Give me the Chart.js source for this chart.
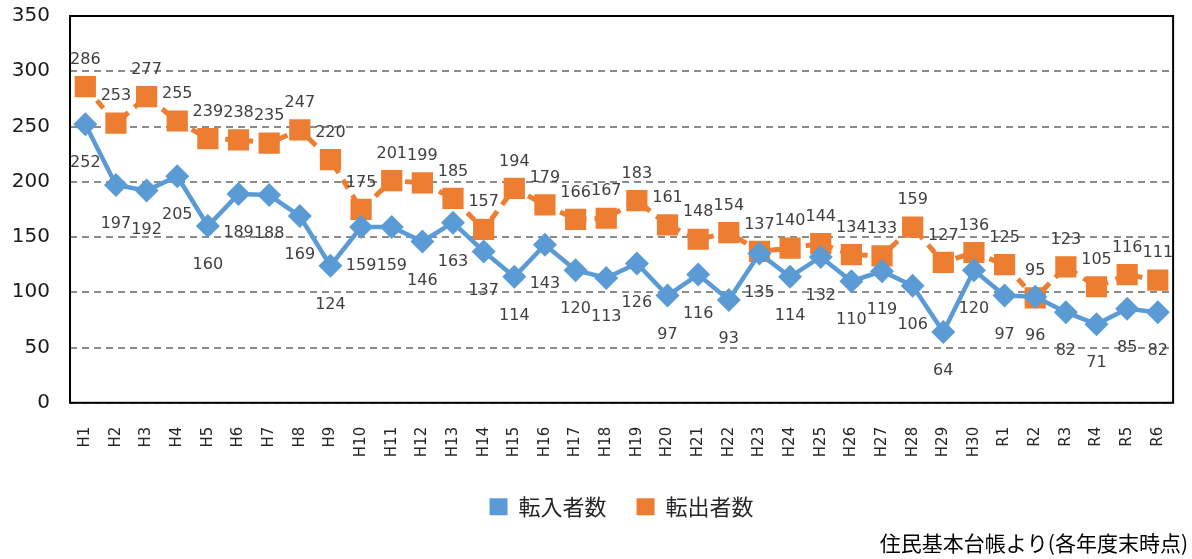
<!DOCTYPE html>
<html>
<head>
<meta charset="utf-8">
<script src="https://cdn.jsdelivr.net/npm/chart.js@4/dist/chart.umd.min.js"></script>
<style>
  html, body { margin: 0; padding: 0; background: #fff; }
  #wrap { width: 1192px; height: 559px; }
</style>
</head>
<body>
<div id="wrap"><canvas id="chart" width="1192" height="559"></canvas></div>
<script>
// 年度
const years = ['H1','H2','H3','H4','H5','H6','H7','H8','H9','H10','H11','H12','H13','H14','H15','H16','H17','H18','H19','H20','H21','H22','H23','H24','H25','H26','H27','H28','H29','H30','R1','R2','R3','R4','R5','R6'];
// 転入者数
const moveIn = [252,197,192,205,160,189,188,169,124,159,159,146,163,137,114,143,120,113,126,97,116,93,135,114,132,110,119,106,64,120,97,96,82,71,85,82];
// 転出者数
const moveOut = [286,253,277,255,239,238,235,247,220,175,201,199,185,157,194,179,166,167,183,161,148,154,137,140,144,134,133,159,127,136,125,95,123,105,116,111];
const yTicks = [0,50,100,150,200,250,300,350];

const BLUE = '#5B9BD5';
const ORANGE = '#ED7D31';
const NUM_FONT = '"DejaVu Sans", Verdana, sans-serif';
const JP_FONT = '"Noto Sans CJK JP", sans-serif';

// 数値ラベル（転出は上、転入は下）
const valueLabels = {
  id: 'valueLabels',
  afterDatasetsDraw(chart) {
    const ctx = chart.ctx;
    ctx.save();
    ctx.font = '16px ' + NUM_FONT;
    ctx.fillStyle = '#404040';
    ctx.textAlign = 'center';
    ctx.textBaseline = 'middle';
    chart.data.datasets.forEach((ds, i) => {
      const meta = chart.getDatasetMeta(i);
      const dy = i === 0 ? 39 : -27;
      meta.data.forEach((pt, j) => {
        ctx.fillText(String(ds.data[j]), pt.x, pt.y + dy);
      });
    });
    ctx.restore();
  }
};

// 枠線
const plotFrame = {
  id: 'plotFrame',
  afterDraw(chart) {
    const a = chart.chartArea;
    const ctx = chart.ctx;
    ctx.save();
    ctx.strokeStyle = '#000';
    ctx.lineWidth = 2;
    ctx.strokeRect(a.left, a.top, a.right - a.left, a.bottom - a.top);
    ctx.restore();
  }
};

new Chart(document.getElementById('chart'), {
  type: 'line',
  data: {
    labels: years,
    datasets: [
      {
        label: '転入者数',
        data: moveIn,
        borderColor: BLUE,
        backgroundColor: BLUE,
        borderWidth: 4.5,
        pointStyle: 'rectRot',
        pointRadius: 12,
        pointBorderWidth: 0,
        tension: 0
      },
      {
        label: '転出者数',
        data: moveOut,
        borderColor: ORANGE,
        backgroundColor: ORANGE,
        borderWidth: 5,
        borderDash: [10, 8],
        pointStyle: 'rect',
        pointRadius: 15,
        pointBorderWidth: 0,
        tension: 0
      }
    ]
  },
  options: {
    responsive: false,
    animation: false,
    layout: { padding: { top: 0, right: 4, bottom: 3, left: 0 } },
    scales: {
      x: {
        offset: true,
        grid: { display: false },
        border: { display: false },
        ticks: {
          autoSkip: false,
          maxRotation: 90,
          minRotation: 90,
          padding: 16,
          color: '#262626',
          font: { family: NUM_FONT, size: 15 }
        },
        afterFit(s) { s.height = 63; }
      },
      y: {
        min: 0,
        max: 350,
        afterBuildTicks(s) { s.ticks = yTicks.map(v => ({ value: v })); },
        grid: { color: '#8c8c8c', lineWidth: 2, drawTicks: true, tickLength: 16, tickColor: 'rgba(0,0,0,0)' },
        border: { display: false, dash: [7, 5] },
        ticks: {
          padding: 4,
          color: '#1a1a1a',
          font: { family: NUM_FONT, size: 20 }
        },
        afterFit(s) { s.width = 70; }
      },
      yr: {
        position: 'right',
        display: true,
        grid: { display: false },
        border: { display: false },
        ticks: { display: false },
        afterFit(s) { s.width = 6; }
      }
    },
    plugins: {
      legend: {
        position: 'bottom',
        fullSize: false,
        labels: {
          boxWidth: 18,
          boxHeight: 17,
          padding: 30,
          color: '#262626',
          font: { family: JP_FONT, size: 22 },
          generateLabels(chart) {
            return Chart.defaults.plugins.legend.labels.generateLabels(chart).map(l => {
              l.lineWidth = 0;
              l.lineDash = [];
              return l;
            });
          }
        }
      },
      subtitle: {
        display: true,
        text: '住民基本台帳より(各年度末時点)',
        position: 'bottom',
        align: 'end',
        color: '#000',
        font: { family: JP_FONT, size: 21, weight: 'normal' },
        padding: { top: 3, bottom: 0 }
      },
      tooltip: { enabled: false }
    }
  },
  plugins: [valueLabels, plotFrame]
});
</script>
</body>
</html>
